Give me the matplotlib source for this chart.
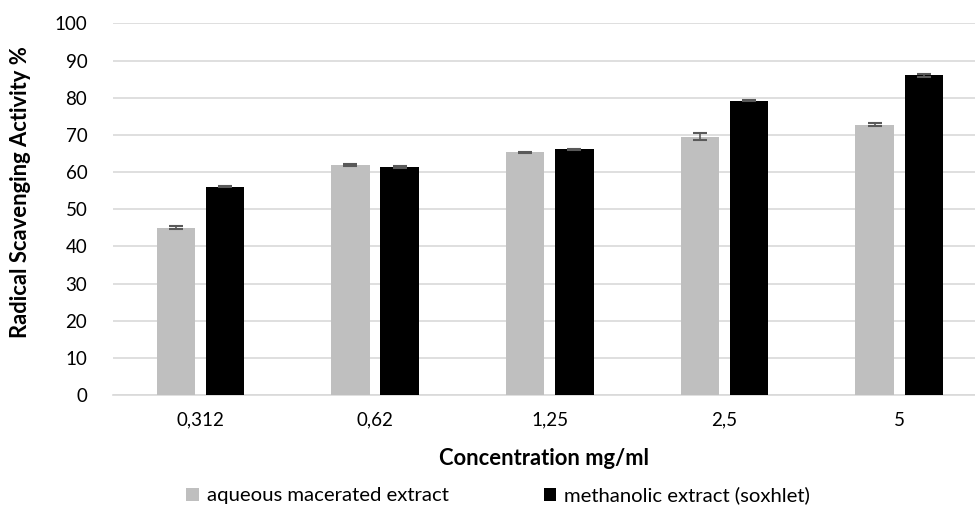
import numpy as np
import matplotlib
matplotlib.use("Agg")
import matplotlib.pyplot as plt

plt.rcParams['font.family'] = ['Lato', 'DejaVu Sans']

concentrations = ['0,312', '0,62', '1,25', '2,5', '5']
aqueous = [45.0, 61.9, 65.3, 69.5, 72.7]
aqueous_err = [0.4, 0.2, 0.2, 1.0, 0.4]
methanolic = [56.1, 61.4, 66.1, 79.2, 86.1]
methanolic_err = [0.2, 0.3, 0.2, 0.2, 0.4]

fig = plt.figure(figsize=(9.75, 5.08), dpi=100)
ax = fig.add_axes([0.1159, 0.2224, 0.8841, 0.7316])

x = np.arange(len(concentrations))
w = 0.22
off = 0.141
err_kw = dict(ecolor='#595959', elinewidth=1.2, capsize=5, capthick=1.5)

ax.bar(x - off, aqueous, w, color='#BFBFBF', yerr=aqueous_err, error_kw=err_kw,
       label='aqueous macerated extract', zorder=3)
ax.bar(x + off, methanolic, w, color='#000000', yerr=methanolic_err, error_kw=err_kw,
       label='methanolic extract (soxhlet)', zorder=3)

ax.set_xlim(-0.5, -0.5 + 862 / 174.7)
ax.set_ylim(0, 100)
ax.set_yticks(range(0, 101, 10))
ax.set_xticks(x)
ax.set_xticklabels(concentrations)
ax.grid(axis='y', color='#D9D9D9', linewidth=1.2, zorder=0)
for s in ['top', 'right', 'left']:
    ax.spines[s].set_visible(False)
ax.spines['bottom'].set_color('#D9D9D9')
ax.spines['bottom'].set_linewidth(1.2)
ax.tick_params(axis='both', length=0, labelsize=13.5, colors='#000000')
ax.tick_params(axis='y', pad=18.5)
ax.tick_params(axis='x', pad=12)

ax.set_xlabel('Concentration mg/ml', fontsize=15.8, fontweight='bold', labelpad=14)
ax.set_ylabel('Radical Scavenging Activity %', fontsize=15.8, fontweight='bold')
ax.yaxis.set_label_coords(-0.095, 0.545)

fig.legend(loc='center', bbox_to_anchor=(0.511, 0.025), ncol=2, frameon=False,
           fontsize=14.6, handlelength=0.6, handleheight=0.6, handletextpad=0.4,
           columnspacing=4.7)

fig.savefig('out.png', dpi=100)
